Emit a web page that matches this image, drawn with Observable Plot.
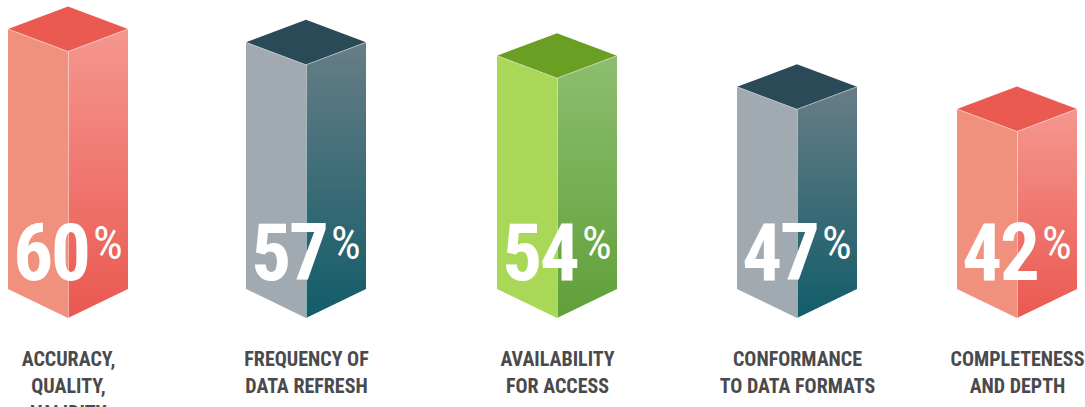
<!DOCTYPE html>
<html><head><meta charset="utf-8">
<script src="https://cdn.jsdelivr.net/npm/d3@7"></script>
<script src="https://cdn.jsdelivr.net/npm/@observablehq/plot@0.6"></script>
<style>
body{margin:0;background:#fff;}
#chart svg{display:block;overflow:visible;}
</style></head><body><div id="chart"></div>
<script>
// ---- data ----
const categories = ["ACCURACY,\nQUALITY,\nVALIDITY", "FREQUENCY OF\nDATA REFRESH", "AVAILABILITY\nFOR ACCESS", "CONFORMANCE\nTO DATA FORMATS", "COMPLETENESS\nAND DEPTH"];
const values = [60, 57, 54, 47, 42];
const themeOf = ["red", "teal", "green", "teal", "red"];

// ---- styles ----
const palette = {
  red:   {top: "#EA5A50", left: "#F0917E", rightTop: "#F5978F", rightBottom: "#EA5850"},
  teal:  {top: "#2B4A58", left: "#A2AAB1", rightTop: "#677D86", rightBottom: "#125C69"},
  green: {top: "#6A9F24", left: "#A9D757", rightTop: "#8DBE70", rightBottom: "#609F39"}
};
const FONT = "'Roboto Condensed','Liberation Sans Narrow','DejaVu Sans Condensed','Arial Narrow',sans-serif";
// horizontal layout of the five columns (as in the original infographic)
const xRange = [68, 306, 557, 797, 1017];

function prisms(index, scales) {
  const g = d3.create("svg:g");
  const defs = g.append("defs");
  const w = 60, dTop = 22.5, dBot = 29;
  categories.forEach((c, i) => {
    const t = palette[themeOf[i]];
    const cx = scales.x(i), top = scales.y(values[i]), base = scales.y(0);
    const gid = "rg" + i;
    const lg = defs.append("linearGradient").attr("id", gid)
      .attr("x1", 0).attr("y1", 0).attr("x2", 0).attr("y2", 1);
    lg.append("stop").attr("offset", 0).attr("stop-color", t.rightTop);
    lg.append("stop").attr("offset", 1).attr("stop-color", t.rightBottom);
    g.append("path").attr("fill", t.left)
      .attr("d", `M${cx - w},${top - dTop}L${cx},${top}L${cx},${base}L${cx - w},${base - dBot}Z`);
    g.append("path").attr("fill", `url(#${gid})`)
      .attr("d", `M${cx},${top}L${cx + w},${top - dTop}L${cx + w},${base - dBot}L${cx},${base}Z`);
    g.append("path").attr("fill", t.top)
      .attr("d", `M${cx},${top}L${cx - w},${top - dTop}L${cx},${top - 2 * dTop}L${cx + w},${top - dTop}Z`);
    g.append("path").attr("fill", "none").attr("stroke", "#fff").attr("stroke-opacity", 0.45)
      .attr("d", `M${cx - w},${top - dTop}L${cx},${top}L${cx + w},${top - dTop}`);
  });
  return g.node();
}

function numbers(index, scales) {
  const g = d3.create("svg:g");
  categories.forEach((c, i) => {
    const cx = scales.x(i), base = scales.y(0);
    const txt = g.append("text").attr("x", cx).attr("y", base - 38)
      .attr("text-anchor", "middle").attr("fill", "#fff")
      .style("font-family", FONT).style("font-weight", "bold").style("font-size", "79px")
      .style("letter-spacing", "-2px");
    txt.append("tspan").text(values[i]);
    txt.append("tspan").attr("dx", 4).attr("dy", -21)
      .style("font-size", "47px").style("font-weight", "normal").style("letter-spacing", "0px").text("%");
  });
  return g.node();
}

const chart = Plot.plot({
  width: 1085, height: 407,
  marginTop: 0, marginBottom: 89, marginLeft: 0, marginRight: 0,
  x: {type: "linear", domain: [0, 1, 2, 3, 4], range: xRange, axis: null},
  y: {type: "linear", domain: [0, 71.6], axis: null},
  marks: [
    prisms,
    Plot.ruleX(values, {x: (d, i) => i, y1: 0, y2: d => d, stroke: "#fff", strokeOpacity: 0.5, strokeWidth: 1}),
    numbers,
    Plot.text(categories, {x: (d, i) => i, text: d => d, frameAnchor: "bottom", dy: 29, lineAnchor: "top",
      lineHeight: 1.33, fontSize: 20, fontWeight: "bold", fill: "#4A4A4C", fontFamily: FONT})
  ]
});
document.getElementById("chart").append(chart);
</script></body></html>
